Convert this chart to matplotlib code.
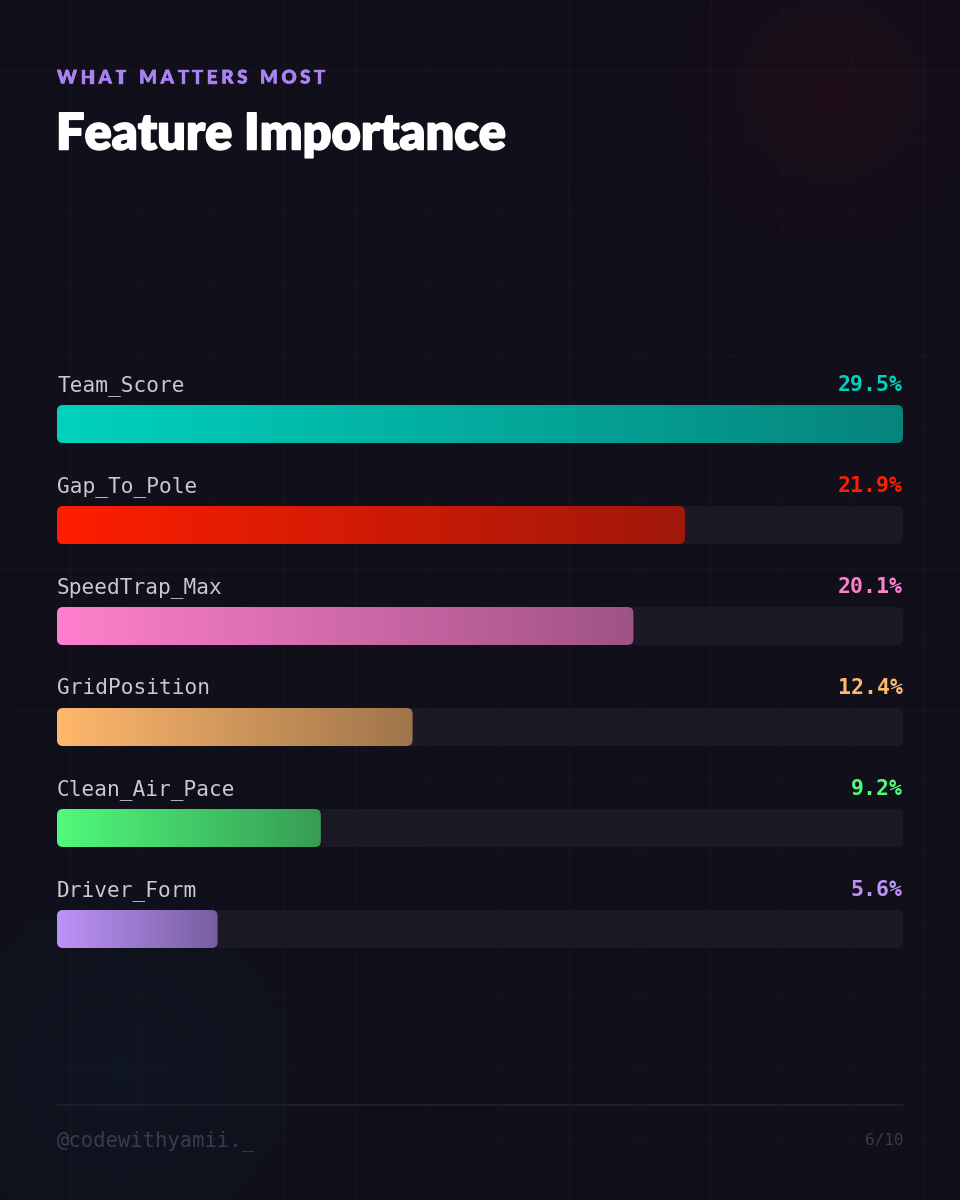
import numpy as np
import matplotlib
matplotlib.use("Agg")
import matplotlib.pyplot as plt
from matplotlib.patches import FancyBboxPatch
from matplotlib.colors import to_rgb
import matplotlib.patheffects as pe

# ---- data ----
features = ["Team_Score", "Gap_To_Pole", "SpeedTrap_Max", "GridPosition", "Clean_Air_Pace", "Driver_Form"]
importance = [29.5, 21.9, 20.1, 12.4, 9.2, 5.6]
bar_colors = ["#00d2be", "#ff1e00", "#ff80cc", "#ffb86c", "#50fa7b", "#bd93f9"]
eyebrow = "WHAT MATTERS MOST"
title = "Feature Importance"
handle = "@codewithyamii._"
page = "6/10"

W, H = 960, 1200
BG = "#100f1a"
fig = plt.figure(figsize=(W / 100, H / 100), dpi=100, facecolor=BG)

# ---- background layer (pixel coords) ----
bg = fig.add_axes([0, 0, 1, 1])
bg.set_xlim(0, W)
bg.set_ylim(H, 0)
bg.axis("off")
yy, xx = np.mgrid[0:H, 0:W]
base = np.array(to_rgb(BG))
img = np.ones((H, W, 3)) * base
# red glow top right
d = np.sqrt((xx - 830) ** 2 + (yy - 90) ** 2)
g = np.clip(1 - d / 280, 0, 1) ** 2
img += g[..., None] * (np.array([0.17, 0.05, 0.08]) - base) * 0.5
# blue glow bottom left
d2 = np.sqrt((xx - 120) ** 2 + (yy - 1070) ** 2)
g2 = np.clip(1 - d2 / 380, 0, 1) ** 2
img += g2[..., None] * (np.array([0.06, 0.11, 0.16]) - base) * 0.5
bg.imshow(np.clip(img, 0, 1), extent=(0, W, H, 0), aspect="auto", zorder=0)
step = 71.1
for k in range(1, 14):
    bg.axvline(k * step, color="#ffffff", alpha=0.02, lw=1.2, zorder=1)
for k in range(1, 17):
    bg.axhline(k * step, color="#ffffff", alpha=0.02, lw=1.2, zorder=1)

# ---- header ----
fig.canvas.draw()
renderer = fig.canvas.get_renderer()
xcur = 57
for ch in eyebrow:
    t = bg.text(xcur, 78, ch, color="#a982ef", fontsize=13.5, fontweight="heavy",
                family="Lato", va="center", ha="left", zorder=5,
                path_effects=[pe.withStroke(linewidth=0.3, foreground="#a982ef")])
    if ch == " ":
        xcur += 9
    else:
        bb = t.get_window_extent(renderer)
        xcur += bb.width + 3.4
bg.text(56, 135, title, color="white", fontsize=36.3, fontweight="heavy", family="Lato",
        va="center", ha="left", zorder=5,
        path_effects=[pe.withStroke(linewidth=1.1, foreground="white")])

# footer
bg.plot([57, 903], [1105, 1105], color="#20202f", lw=1.2, zorder=3)
bg.text(57, 1141, handle, color="#3a3a4c", fontsize=14.8, family="DejaVu Sans Mono",
        va="center", ha="left", zorder=5)
bg.text(903, 1141, page, color="#3a3a4c", fontsize=11.5, family="DejaVu Sans Mono",
        va="center", ha="right", zorder=5)

# ---- bars axes ----
x0_px, x1_px = 57, 903
top_px, bot_px = 330, 1000
row0, row_step = 424, 101
vmax = max(importance)
ax = fig.add_axes([x0_px / W, 1 - bot_px / H, (x1_px - x0_px) / W, (bot_px - top_px) / H])
ax.patch.set_alpha(0)
ax.axis("off")
ax.set_xlim(0, vmax)
ax.set_ylim((bot_px - row0) / row_step, (top_px - row0) / row_step)

px_per_x = (x1_px - x0_px) / vmax
aspect = px_per_x / row_step
bar_h = 38 / row_step
r = 6 / px_per_x

for i, (name, val, col) in enumerate(zip(features, importance, bar_colors)):
    # track
    track = FancyBboxPatch((0, i - bar_h / 2), vmax, bar_h,
                           boxstyle=f"round,pad=0,rounding_size={r}", mutation_aspect=aspect,
                           fc="#1a1925", ec="none", zorder=2)
    ax.add_patch(track)
    # bar
    bar = FancyBboxPatch((0, i - bar_h / 2), val, bar_h,
                         boxstyle=f"round,pad=0,rounding_size={r}", mutation_aspect=aspect,
                         fc="none", ec="none", zorder=3)
    ax.add_patch(bar)
    c = np.array(to_rgb(col))
    tt = np.linspace(0, 1, 256)
    mix = c[None, :] * (1 - 0.4 * tt[:, None]) + base[None, :] * (0.4 * tt[:, None])
    grad = mix[None, :, :]
    im = ax.imshow(grad, extent=(0, val, i + bar_h / 2, i - bar_h / 2), aspect="auto",
                   zorder=3, interpolation="bilinear")
    im.set_clip_path(bar)
    # labels
    ax.text(0, i - 0.33, name, color="#c9c9d3", fontsize=15.2, family="DejaVu Sans Mono",
            va="baseline", ha="left", zorder=5)
    ax.text(vmax, i - 0.33, f"{val:.1f}%", color=col, fontsize=15.5, fontweight="bold",
            family="DejaVu Sans Mono", va="baseline", ha="right", zorder=5)

ax.set_xlim(0, vmax)
ax.set_ylim((bot_px - row0) / row_step, (top_px - row0) / row_step)

fig.savefig("out.png", dpi=100, facecolor=BG)
